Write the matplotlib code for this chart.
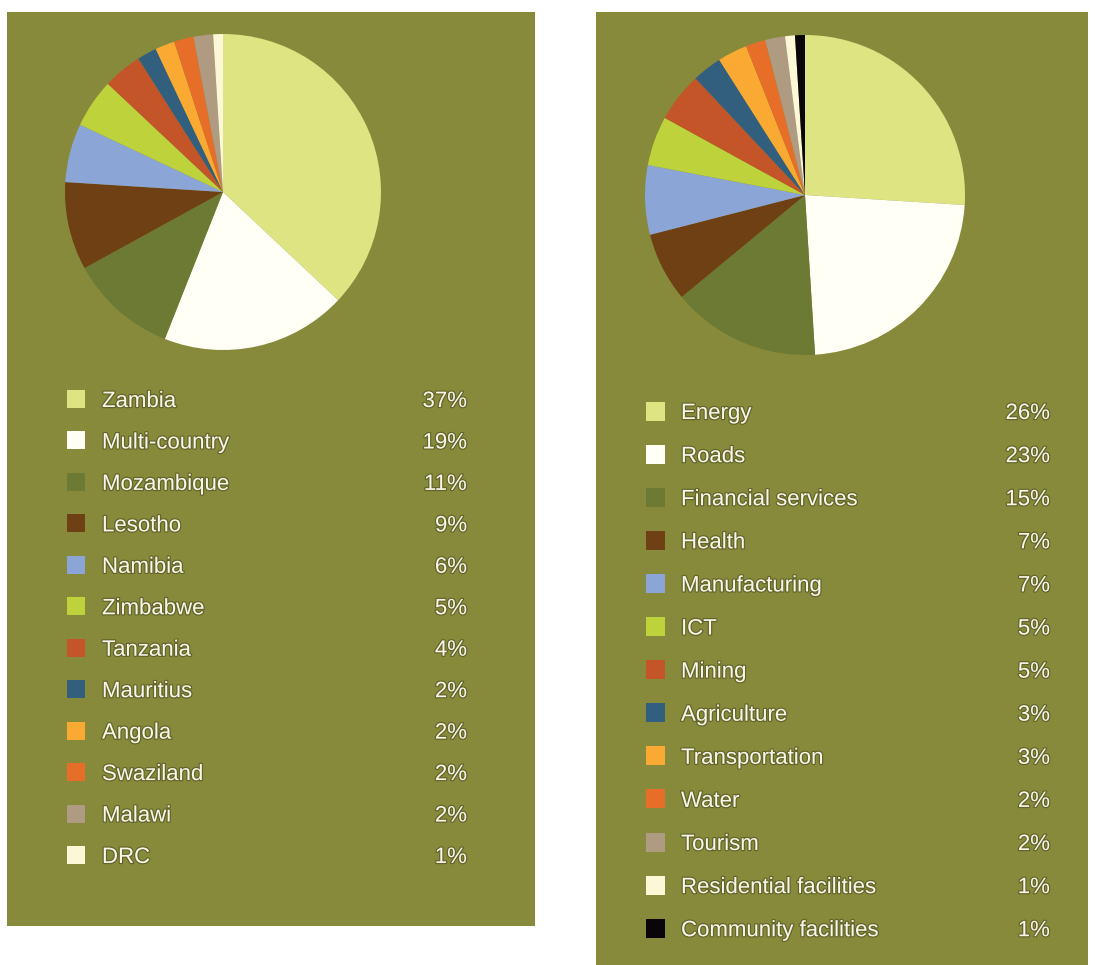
import matplotlib
matplotlib.use("Agg")
import matplotlib.pyplot as plt
from matplotlib.patches import Rectangle
import matplotlib.patheffects as pe

# Figure size in pixels
W, H = 1095, 965
DPI = 100

# Lending by country
countries = ["Zambia", "Multi-country", "Mozambique", "Lesotho", "Namibia",
             "Zimbabwe", "Tanzania", "Mauritius", "Angola", "Swaziland",
             "Malawi", "DRC"]
country_share = [37, 19, 11, 9, 6, 5, 4, 2, 2, 2, 2, 1]

# Lending by sector
sectors = ["Energy", "Roads", "Financial services", "Health", "Manufacturing",
           "ICT", "Mining", "Agriculture", "Transportation", "Water",
           "Tourism", "Residential facilities", "Community facilities"]
sector_share = [26, 23, 15, 7, 7, 5, 5, 3, 3, 2, 2, 1, 1]

palette = ["#dee482", "#fffff5", "#6c7a34", "#6e4014", "#8ca5d7", "#bed23c",
           "#c35528", "#325f7d", "#faaa32", "#e66e28", "#af9b82", "#fcf8d7",
           "#0a0508"]
country_colors = palette[:12]
sector_colors = palette[:13]

PANEL_BG = "#878a3a"
TEXT_COLOR = "#f8f6e8"
FONT = "Liberation Sans"
FONT_SIZE = 16

fig = plt.figure(figsize=(W / DPI, H / DPI), dpi=DPI, facecolor="white")
base = fig.add_axes([0, 0, 1, 1])
base.set_xlim(0, W)
base.set_ylim(H, 0)
base.axis("off")

halo = [pe.withStroke(linewidth=1.8, foreground="#4a4d1e", alpha=0.6)]


def draw_panel(box, pie_center, pie_r, labels, values, colors,
               rows_y0, row_step, marker_x, marker_size, text_x, value_x):
    x0, y0, x1, y1 = box
    base.add_patch(Rectangle((x0, y0), x1 - x0, y1 - y0,
                             facecolor=PANEL_BG, edgecolor="none", zorder=0))

    cx, cy = pie_center
    ax = fig.add_axes([(cx - pie_r) / W, 1 - (cy + pie_r) / H,
                       2 * pie_r / W, 2 * pie_r / H])
    ax.pie(values, colors=colors, startangle=90, counterclock=False,
           radius=1, wedgeprops=dict(linewidth=0))
    ax.set_xlim(-1, 1)
    ax.set_ylim(-1, 1)
    ax.set_aspect("equal")
    ax.axis("off")

    for i, (lab, val, col) in enumerate(zip(labels, values, colors)):
        y = rows_y0 + i * row_step
        s = marker_size
        base.add_patch(Rectangle((marker_x - s / 2, y - s / 2), s, s,
                                 facecolor=col, edgecolor="none", zorder=2))
        base.text(text_x, y, lab, ha="left", va="center_baseline",
                  fontsize=FONT_SIZE, family=FONT, color=TEXT_COLOR,
                  path_effects=halo, zorder=3)
        base.text(value_x, y, f"{val}%", ha="right", va="center_baseline",
                  fontsize=FONT_SIZE, family=FONT, color=TEXT_COLOR,
                  path_effects=halo, zorder=3)


draw_panel(box=(7, 12, 535, 926), pie_center=(223, 192), pie_r=158,
           labels=countries, values=country_share, colors=country_colors,
           rows_y0=399, row_step=41.45, marker_x=76, marker_size=18,
           text_x=102, value_x=467)

draw_panel(box=(596, 12, 1088, 965), pie_center=(805, 195), pie_r=160,
           labels=sectors, values=sector_share, colors=sector_colors,
           rows_y0=411, row_step=43.1, marker_x=655, marker_size=19,
           text_x=681, value_x=1050)

fig.savefig("out.png", dpi=DPI, facecolor="white")
